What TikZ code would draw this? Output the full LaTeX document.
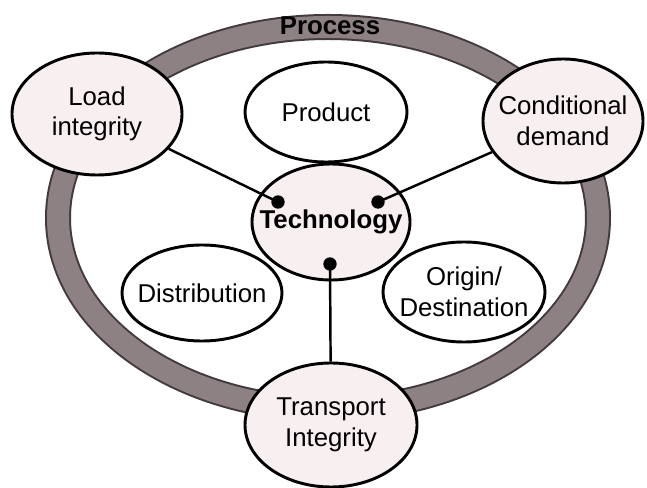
\documentclass[tikz,border=0pt]{standalone}
\usepackage{fontspec}
\setmainfont{Liberation Sans}
\usetikzlibrary{shapes.geometric}
\definecolor{ringgray}{RGB}{141,129,131}
\definecolor{ringedge}{RGB}{66,58,60}
\definecolor{hubpink}{RGB}{247,239,240}
\begin{document}
\begin{tikzpicture}[x=0.03cm,y=-0.03cm,
		oval/.style={ellipse,draw,line width=2.5pt,inner sep=0pt,
			label={[align=center,font=\fontsize{22}{26}\selectfont]center:#1}},
		hub/.style={fill=hubpink},
		pin/.style={circle,fill,inner sep=0pt,minimum size=0.4cm},
		link/.style={line width=2.1pt}]
	\useasboundingbox (0,0) rectangle (647,488);
	% the process ring
	\draw[line width=0.78cm,ringedge] (328,218) ellipse (270 and 191);
	\draw[line width=0.66cm,ringgray] (328,218) ellipse (270 and 191);
	\node[font=\bfseries\fontsize{22}{26}\selectfont] (process) at (330,26) {Process};
	% ovals on the ring
	\node[oval={Load\\integrity},hub,minimum width=5.1cm,minimum height=3.66cm] (load) at (97,114) {};
	\node[oval={Conditional\\demand},hub,minimum width=4.8cm,minimum height=3.72cm] (cond) at (563,121) {};
	\node[oval={Transport\\Integrity},hub,minimum width=5.16cm,minimum height=3.72cm] (trans) at (331,425) {};
	% inner ovals
	\node[oval={\bfseries Technology},hub,minimum width=4.74cm,minimum height=3.48cm] (tech) at (331,222) {};
	\node[oval={Product},minimum width=4.86cm,minimum height=3cm] (product) at (326,112) {};
	\node[oval={Distribution},minimum width=4.8cm,minimum height=2.88cm] (dist) at (202,293) {};
	\node[oval={Origin/\\Destination},minimum width=4.86cm,minimum height=3cm] (orig) at (464,292) {};
	% links into technology
	\node[pin] (pinL) at (278,202) {};
	\node[pin] (pinR) at (378,202) {};
	\node[pin] (pinB) at (330,264) {};
	\draw[link] (pinL.center) -- (load);
	\draw[link] (pinR.center) -- (cond);
	\draw[link] (pinB.center) -- (trans);
\end{tikzpicture}
\end{document}
